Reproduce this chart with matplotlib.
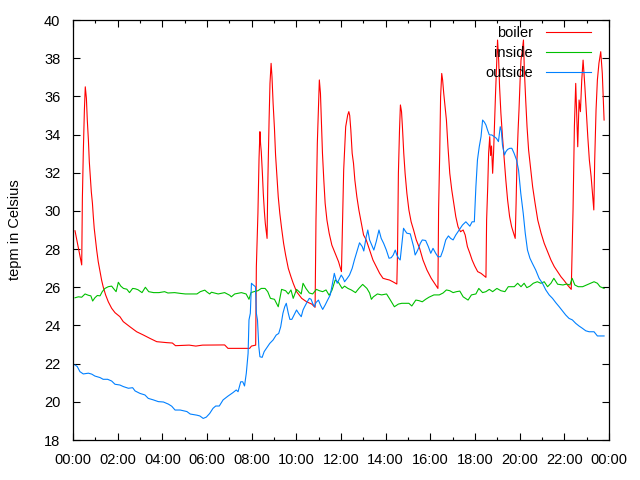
import matplotlib
matplotlib.use("Agg")
import matplotlib.pyplot as plt
from matplotlib.ticker import MultipleLocator

plt.rcParams['font.family'] = ['Liberation Sans', 'DejaVu Sans']

# Time in hours since 00:00
boiler_t = [0.09, 0.2, 0.3, 0.39, 0.42, 0.46, 0.51, 0.55, 0.6, 0.64, 0.69, 0.73, 0.78, 0.82, 0.87, 0.91, 0.95, 1.0, 1.06, 1.13, 1.21, 1.28, 1.35, 1.46, 1.58, 1.73, 1.88, 2.1, 2.25, 2.55, 2.85, 3.15, 3.45, 3.75, 4.2, 4.45, 4.59, 5.2, 5.5, 5.8, 6.79, 6.94, 7.91, 7.99, 8.18, 8.21, 8.28, 8.33, 8.37, 8.40, 8.43, 8.48, 8.52, 8.57, 8.61, 8.66, 8.69, 8.72, 8.78, 8.82, 8.87, 8.91, 8.96, 9.02, 9.07, 9.13, 9.19, 9.26, 9.34, 9.43, 9.52, 9.64, 9.76, 9.86, 10.01, 10.24, 10.46, 10.69, 10.84, 10.88, 10.94, 10.99, 11.03, 11.08, 11.12, 11.17, 11.23, 11.29, 11.37, 11.47, 11.59, 11.74, 11.89, 12.02, 12.08, 12.12, 12.17, 12.21, 12.3, 12.35, 12.39, 12.44, 12.5, 12.56, 12.62, 12.71, 12.8, 12.91, 13.01, 13.13, 13.28, 13.43, 13.58, 13.73, 13.88, 14.03, 14.17, 14.32, 14.5, 14.53, 14.57, 14.62, 14.66, 14.71, 14.75, 14.81, 14.87, 14.95, 15.04, 15.14, 15.25, 15.37, 15.52, 15.67, 15.85, 16.04, 16.19, 16.34, 16.37, 16.42, 16.46, 16.51, 16.55, 16.6, 16.66, 16.72, 16.79, 16.87, 16.96, 17.05, 17.14, 17.24, 17.35, 17.47, 17.56, 17.66, 17.77, 17.87, 17.99, 18.12, 18.27, 18.49, 18.52, 18.57, 18.61, 18.66, 18.7, 18.74, 18.79, 18.83, 18.88, 18.92, 18.97, 19.01, 19.06, 19.1, 19.16, 19.23, 19.31, 19.38, 19.46, 19.55, 19.64, 19.73, 19.8, 19.84, 19.88, 19.93, 19.97, 20.02, 20.06, 20.11, 20.17, 20.21, 20.27, 20.33, 20.4, 20.48, 20.58, 20.69, 20.81, 20.96, 21.1, 21.25, 21.4, 21.55, 21.7, 21.85, 22.0, 22.14, 22.31, 22.36, 22.39, 22.45, 22.51, 22.57, 22.6, 22.66, 22.72, 22.78, 22.84, 22.92, 22.98, 23.05, 23.12, 23.2, 23.27, 23.32, 23.36, 23.42, 23.48, 23.55, 23.63, 23.7, 23.78]
boiler_v = [28.96, 28.3, 27.7, 27.17, 30.66, 33.0, 35.29, 36.5, 35.9, 34.76, 33.7, 32.58, 31.7, 31.0, 30.4, 29.7, 29.09, 28.56, 27.95, 27.34, 26.82, 26.38, 26.03, 25.6, 25.24, 24.9, 24.67, 24.46, 24.2, 23.93, 23.67, 23.5, 23.32, 23.15, 23.1, 23.08, 22.94, 22.97, 22.92, 22.97, 22.98, 22.8, 22.8, 22.92, 22.97, 27.08, 29.87, 32.75, 34.15, 33.5, 33.1, 31.97, 30.92, 29.96, 29.35, 28.83, 28.56, 31.27, 34.76, 36.68, 37.73, 37.03, 35.64, 34.33, 32.93, 31.79, 30.74, 29.87, 29.09, 28.3, 27.69, 26.99, 26.55, 26.21, 25.77, 25.42, 25.24, 25.12, 24.95, 29.52, 33.54, 35.46, 36.86, 36.16, 34.76, 33.02, 31.62, 30.4, 29.52, 28.83, 28.21, 27.78, 27.34, 26.82, 30.05, 32.14, 33.36, 34.41, 35.02, 35.2, 35.0, 34.24, 33.02, 32.49, 31.62, 30.74, 30.05, 29.35, 28.74, 28.48, 27.95, 27.43, 27.08, 26.73, 26.47, 26.42, 26.38, 26.29, 26.17, 27.78, 31.97, 34.24, 35.55, 35.2, 34.41, 33.02, 31.97, 30.92, 30.05, 29.43, 29.0, 28.48, 28.04, 27.43, 26.9, 26.47, 26.21, 25.94, 30.05, 33.02, 35.98, 37.2, 36.86, 36.16, 35.46, 34.76, 33.36, 31.97, 31.09, 30.4, 29.7, 29.17, 28.91, 29.0, 28.74, 28.13, 27.78, 27.43, 27.11, 26.82, 26.73, 26.52, 29.52, 31.27, 33.02, 33.89, 32.9, 33.4, 31.97, 33.0, 34.76, 36.16, 37.73, 38.95, 37.9, 36.5, 35.11, 33.89, 32.67, 31.62, 30.57, 29.7, 29.17, 28.83, 28.56, 30.4, 32.67, 34.24, 35.29, 36.86, 37.9, 38.34, 38.95, 37.38, 35.81, 34.41, 33.19, 32.32, 31.27, 30.4, 29.52, 28.83, 28.3, 27.86, 27.43, 27.08, 26.82, 26.55, 26.34, 26.12, 25.89, 28.5, 30.05, 34.41, 36.68, 34.41, 33.36, 35.81, 35.2, 36.86, 37.9, 36.5, 35.29, 33.89, 32.67, 31.79, 30.74, 30.05, 32.67, 35.29, 36.86, 37.74, 38.34, 37.2, 34.76]

inside_t = [0.09, 0.24, 0.39, 0.54, 0.69, 0.8, 0.88, 0.98, 1.09, 1.21, 1.31, 1.43, 1.58, 1.73, 1.81, 1.93, 2.03, 2.14, 2.26, 2.41, 2.53, 2.67, 2.79, 2.91, 3.09, 3.24, 3.39, 3.61, 3.85, 4.1, 4.25, 4.55, 4.8, 5.03, 5.55, 5.7, 5.9, 6.0, 6.12, 6.2, 6.5, 6.79, 7.02, 7.09, 7.24, 7.54, 7.75, 7.88, 7.97, 8.1, 8.28, 8.43, 8.6, 8.72, 8.84, 9.02, 9.19, 9.34, 9.52, 9.64, 9.76, 9.86, 10.01, 10.12, 10.22, 10.3, 10.43, 10.58, 10.73, 10.9, 11.03, 11.18, 11.33, 11.47, 11.6, 11.74, 11.89, 12.05, 12.16, 12.31, 12.46, 12.65, 12.8, 12.97, 13.16, 13.28, 13.36, 13.45, 13.63, 13.82, 14.04, 14.19, 14.39, 14.57, 14.72, 15.04, 15.17, 15.35, 15.49, 15.64, 15.79, 15.94, 16.16, 16.4, 16.57, 16.72, 16.87, 17.02, 17.17, 17.32, 17.47, 17.69, 17.84, 18.04, 18.17, 18.34, 18.49, 18.64, 18.79, 18.98, 19.16, 19.34, 19.49, 19.76, 19.91, 20.06, 20.2, 20.32, 20.46, 20.61, 20.79, 20.95, 21.1, 21.25, 21.4, 21.53, 21.7, 21.94, 22.1, 22.25, 22.35, 22.47, 22.62, 22.82, 23.0, 23.18, 23.33, 23.48, 23.6, 23.78]
inside_v = [25.45, 25.5, 25.48, 25.65, 25.58, 25.55, 25.28, 25.45, 25.57, 25.55, 25.77, 25.94, 26.03, 26.06, 25.94, 25.77, 26.26, 26.06, 25.94, 25.9, 25.72, 25.94, 25.92, 25.87, 25.72, 26.0, 25.77, 25.72, 25.72, 25.77, 25.7, 25.72, 25.68, 25.65, 25.65, 25.77, 25.85, 25.75, 25.65, 25.74, 25.65, 25.72, 25.58, 25.5, 25.65, 25.72, 25.65, 25.37, 25.72, 25.77, 25.82, 25.94, 25.94, 25.77, 25.42, 25.37, 24.98, 25.89, 25.82, 25.65, 25.86, 25.42, 25.89, 25.77, 25.65, 26.21, 25.94, 25.7, 25.65, 25.89, 25.82, 25.77, 25.86, 25.58, 25.86, 26.38, 26.25, 25.94, 26.06, 25.94, 25.86, 25.72, 25.94, 26.15, 25.94, 25.7, 25.37, 25.5, 25.65, 25.6, 25.65, 25.37, 24.98, 25.12, 25.16, 25.16, 25.02, 25.33, 25.3, 25.24, 25.37, 25.48, 25.6, 25.6, 25.7, 25.86, 25.82, 25.72, 25.77, 25.8, 25.5, 25.33, 25.6, 25.65, 25.94, 25.72, 25.77, 25.89, 25.77, 25.94, 25.82, 25.77, 26.03, 26.03, 26.21, 26.03, 26.21, 25.98, 26.06, 26.21, 26.29, 26.21, 26.29, 26.03, 26.21, 26.47, 26.16, 26.12, 26.17, 26.12, 26.47, 26.12, 26.03, 26.03, 26.12, 26.21, 26.29, 26.21, 26.03, 25.94]

outside_t = [0.09, 0.19, 0.31, 0.46, 0.69, 0.84, 0.98, 1.21, 1.35, 1.55, 1.73, 1.88, 2.1, 2.25, 2.48, 2.67, 2.78, 3.0, 3.22, 3.37, 3.6, 3.82, 4.05, 4.27, 4.42, 4.57, 4.8, 5.1, 5.25, 5.55, 5.68, 5.83, 5.97, 6.12, 6.27, 6.39, 6.55, 6.72, 6.94, 7.16, 7.31, 7.39, 7.51, 7.6, 7.68, 7.76, 7.84, 7.88, 7.94, 7.99, 8.07, 8.17, 8.21, 8.26, 8.32, 8.37, 8.47, 8.56, 8.66, 8.81, 8.96, 9.1, 9.21, 9.3, 9.4, 9.48, 9.55, 9.64, 9.71, 9.8, 9.9, 10.01, 10.1, 10.22, 10.3, 10.37, 10.49, 10.58, 10.66, 10.73, 10.81, 10.88, 10.99, 11.08, 11.18, 11.29, 11.4, 11.52, 11.62, 11.7, 11.77, 11.83, 11.9, 12.01, 12.1, 12.16, 12.28, 12.38, 12.5, 12.6, 12.71, 12.83, 12.95, 13.02, 13.13, 13.2, 13.28, 13.38, 13.47, 13.58, 13.7, 13.8, 13.91, 14.03, 14.15, 14.25, 14.34, 14.43, 14.5, 14.58, 14.65, 14.73, 14.8, 14.87, 14.95, 15.1, 15.17, 15.25, 15.32, 15.4, 15.47, 15.55, 15.64, 15.79, 15.91, 16.02, 16.12, 16.24, 16.34, 16.46, 16.57, 16.69, 16.81, 16.91, 17.02, 17.14, 17.29, 17.44, 17.59, 17.77, 17.87, 17.97, 18.04, 18.11, 18.19, 18.27, 18.34, 18.42, 18.49, 18.56, 18.64, 18.75, 18.85, 18.96, 19.05, 19.13, 19.18, 19.23, 19.32, 19.38, 19.46, 19.56, 19.65, 19.75, 19.86, 19.95, 20.05, 20.16, 20.25, 20.35, 20.46, 20.57, 20.72, 20.87, 21.02, 21.17, 21.32, 21.47, 21.62, 21.77, 21.91, 22.06, 22.21, 22.36, 22.51, 22.66, 22.81, 22.96, 23.11, 23.33, 23.48, 23.78]
outside_v = [21.93, 21.85, 21.58, 21.46, 21.5, 21.45, 21.35, 21.27, 21.18, 21.18, 21.09, 20.92, 20.88, 20.8, 20.71, 20.74, 20.57, 20.44, 20.36, 20.18, 20.1, 20.01, 19.99, 19.88, 19.77, 19.57, 19.57, 19.49, 19.36, 19.3, 19.26, 19.13, 19.2, 19.39, 19.66, 19.78, 19.78, 20.1, 20.3, 20.48, 20.62, 20.53, 21.05, 21.05, 20.83, 21.5, 22.54, 24.29, 24.64, 26.21, 26.12, 26.03, 24.64, 24.29, 22.89, 22.36, 22.33, 22.63, 22.8, 23.06, 23.24, 23.5, 23.58, 23.93, 24.64, 24.98, 25.16, 24.64, 24.32, 24.32, 24.55, 24.81, 24.64, 24.46, 24.81, 24.98, 25.24, 25.42, 25.37, 25.16, 24.98, 25.2, 25.33, 25.07, 24.84, 25.07, 25.33, 25.6, 26.21, 26.73, 26.42, 26.21, 26.38, 26.64, 26.47, 26.29, 26.47, 26.64, 26.99, 27.43, 27.86, 28.33, 28.13, 27.9, 28.65, 29.0, 28.48, 28.2, 27.95, 28.4, 29.0, 28.56, 28.3, 27.95, 27.52, 27.55, 27.69, 27.95, 27.69, 27.52, 27.43, 28.3, 29.09, 28.96, 28.83, 28.8, 28.48, 28.13, 27.69, 27.86, 28.04, 28.3, 28.48, 28.45, 28.13, 27.78, 28.04, 27.78, 27.6, 27.6, 27.95, 28.48, 28.69, 28.56, 28.48, 28.74, 29.0, 29.26, 29.43, 29.2, 29.43, 29.43, 31.27, 32.67, 33.36, 33.89, 34.76, 34.65, 34.5, 34.24, 33.98, 33.98, 33.9, 33.8, 33.63, 34.41, 34.2, 33.45, 32.93, 33.1, 33.22, 33.28, 33.28, 33.02, 32.67, 32.14, 30.92, 29.87, 28.83, 27.95, 27.52, 27.25, 26.9, 26.47, 26.21, 25.86, 25.6, 25.42, 25.19, 24.98, 24.77, 24.55, 24.37, 24.29, 24.11, 23.97, 23.85, 23.72, 23.67, 23.67, 23.45, 23.45]

x_ticks = [0, 2, 4, 6, 8, 10, 12, 14, 16, 18, 20, 22, 24]
x_labels = ["00:00", "02:00", "04:00", "06:00", "08:00", "10:00", "12:00",
            "14:00", "16:00", "18:00", "20:00", "22:00", "00:00"]
y_ticks = list(range(18, 41, 2))

fs = 10.5
fig = plt.figure(figsize=(6.4, 4.8), dpi=100)
ax = fig.add_axes([73/640, 40/480, 536/640, 420/480])

lw = 0.8
ax.plot(boiler_t, boiler_v, color='#ff0000', lw=lw, label='boiler')
ax.plot(inside_t, inside_v, color='#00c000', lw=lw, label='inside')
ax.plot(outside_t, outside_v, color='#0080ff', lw=lw, label='outside')

ax.set_xlim(0, 24)
ax.set_ylim(18, 40)
ax.set_xticks(x_ticks)
ax.set_xticklabels(x_labels)
ax.xaxis.set_minor_locator(MultipleLocator(1))
ax.set_yticks(y_ticks)
ax.tick_params(axis='both', which='major', direction='in', length=5, width=0.8,
               top=True, right=True, labelsize=fs, pad=9, colors='black')
ax.tick_params(axis='x', which='minor', direction='in', length=2.5, width=0.8,
               top=True, bottom=True)
for s in ax.spines.values():
    s.set_linewidth(0.9)
    s.set_color('black')

ax.set_ylabel('tepm in Celsius', fontsize=fs)
ax.yaxis.set_label_coords(-51/536, 0.5)

leg = ax.legend(loc='upper right', bbox_to_anchor=(591/640, 1 - 26/480),
                bbox_transform=fig.transFigure, frameon=False, markerfirst=False,
                fontsize=fs, handlelength=3.1, handletextpad=0.9,
                labelspacing=0.4, borderpad=0, borderaxespad=0)

fig.savefig('out.png', dpi=100)
